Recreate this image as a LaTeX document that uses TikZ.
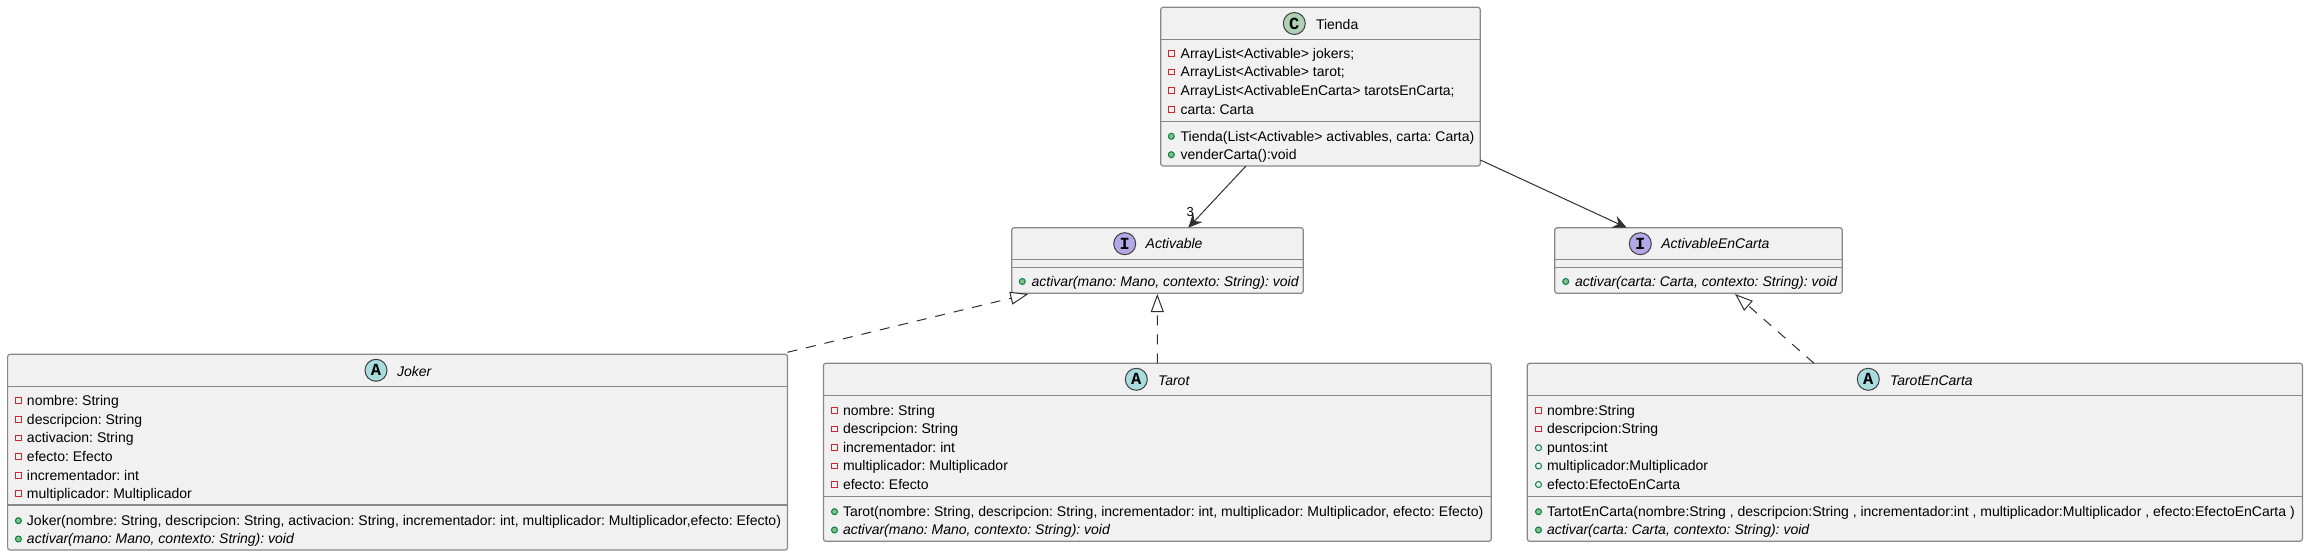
\documentclass[tikz,border=0pt]{standalone}
\usepackage{fontspec}
\setmainfont{Liberation Sans}
\newfontfamily\monofam{Liberation Mono}[BoldFont={Liberation Mono Bold}]
\usetikzlibrary{arrows.meta,calc}
\frenchspacing
\definecolor{boxfill}{HTML}{F1F1F1}
\definecolor{boxline}{HTML}{888888}
\definecolor{linkcol}{HTML}{303030}
\definecolor{privred}{HTML}{C82930}
\definecolor{pubdark}{HTML}{038048}
\definecolor{publight}{HTML}{84BE84}
\definecolor{circC}{HTML}{ADD1B2}
\definecolor{circA}{HTML}{A9DCDF}
\definecolor{circI}{HTML}{B4A7E5}
\tikzset{
  x=1pt,y=-1pt,
  umlbox/.style={draw=boxline,fill=boxfill,line width=1.2pt,rounded corners=2.5pt,inner sep=0,outer sep=0,anchor=north west},
  sepline/.style={draw=boxline,line width=1.2pt},
  membertext/.style={inner sep=0,outer sep=0,anchor=base west,font=\fontsize{14}{17}\selectfont,text=black},
  titletext/.style={membertext},
  circ/.style={circle,draw=black!75,line width=1pt,minimum size=22pt,inner sep=0,outer sep=0,font=\monofam\bfseries\fontsize{17}{20}\selectfont},
  privicon/.style={rectangle,draw=privred,line width=1pt,minimum size=5.6pt,inner sep=0,outer sep=0},
  pubicon/.style={circle,draw=pubdark,fill=publight,line width=1pt,minimum size=6pt,inner sep=0,outer sep=0},
  pubhollow/.style={circle,draw=pubdark,line width=1pt,minimum size=6pt,inner sep=0,outer sep=0},
  assoc/.style={draw=linkcol,line width=1pt,-{Stealth[length=14pt,width=13pt,inset=5pt]}},
  realize/.style={draw=linkcol,line width=1pt,dash pattern=on 10pt off 9pt,-{Triangle[open,length=18pt,width=13pt,fill=white,line width=1pt,sep=0pt]}},
}
% name, x1, y1, x2, y2, sep1, sep2
\newcommand{\umlclass}[7]{%
  \pgfmathsetmacro{\bw}{#4-#2}\pgfmathsetmacro{\bh}{#5-#3}%
  \node[umlbox,minimum width=\bw pt,minimum height=\bh pt] (#1) at (#2,#3) {};
  \draw[sepline] (#2,#6) -- (#4,#6);
  \draw[sepline] (#2,#7) -- (#4,#7);
}
% name, style icon, icon x, text x, centre y, text
\newcommand{\memberrow}[6]{%
  \node[#2] (#1i) at (#3,#5) {};
  \node[membertext] (#1) at (#4,#5+4.8) {#6};
}
\newcommand{\titlerow}[7]{% name, colour, letter, circle x, circle y, text x+baseline , text
  \node[circ,fill=#2] (#1c) at (#4,#5) {#3};
  \node[titletext] (#1) at (#6) {#7};
}
\begin{document}
\begin{tikzpicture}
\useasboundingbox (0,0) rectangle (2308,556);
\fill[white] (0,0) rectangle (2308,556);

% Tienda
\umlclass{tienda}{1160.7}{7.3}{1480.3}{166}{39.3}{121.7}
\titlerow{tiendaT}{circC}{C}{1294.3}{23.5}{1316,29.3}{Tienda}
\memberrow{t1}{privicon}{1171.3}{1180.7}{53.3}{ArrayList<Activable> jokers;}
\memberrow{t2}{privicon}{1171.3}{1180.7}{72}{ArrayList<Activable> tarot;}
\memberrow{t3}{privicon}{1171.3}{1180.7}{90.7}{ArrayList<ActivableEnCarta> tarotsEnCarta;}
\memberrow{t4}{privicon}{1171.3}{1180.7}{109.3}{carta: Carta}
\memberrow{t5}{pubicon}{1171.3}{1180.7}{136.3}{Tienda(List<Activable> activables, carta: Carta)}
\memberrow{t6}{pubicon}{1171.3}{1180.7}{154.7}{venderCarta():void}

% Activable
\umlclass{activable}{1011.7}{227.7}{1303.3}{293.3}{259.3}{267.3}
\titlerow{activableT}{circI}{I}{1124.7}{243.7}{1145.7,248.7}{\itshape Activable}
\memberrow{a1}{pubicon}{1022.3}{1031.7}{281.5}{\itshape activar(mano: Mano, contexto: String): void}

% ActivableEnCarta
\umlclass{activableec}{1554.7}{227.7}{1842.3}{293.3}{259.3}{267.3}
\titlerow{activableecT}{circI}{I}{1640.3}{243.7}{1661.3,248.7}{\itshape ActivableEnCarta}
\memberrow{b1}{pubicon}{1565.7}{1575}{281.5}{\itshape activar(carta: Carta, contexto: String): void}

% Joker
\umlclass{joker}{7.6}{354.3}{787.5}{550}{386.3}{505}
\titlerow{jokerT}{circA}{A}{376}{370.3}{397,376}{\itshape Joker}
\memberrow{j1}{privicon}{18.4}{27}{400.7}{nombre: String}
\memberrow{j2}{privicon}{18.4}{27}{419.4}{descripcion: String}
\memberrow{j3}{privicon}{18.4}{27}{438}{activacion: String}
\memberrow{j4}{privicon}{18.4}{27}{456.7}{efecto: Efecto}
\memberrow{j5}{privicon}{18.4}{27}{475.4}{incrementador: int}
\memberrow{j6}{privicon}{18.4}{27}{493.7}{multiplicador: Multiplicador}
\memberrow{j7}{pubicon}{18.4}{27}{520.7}{Joker(nombre: String, descripcion: String, activacion: String, incrementador: int, multiplicador: Multiplicador,efecto: Efecto)}
\memberrow{j8}{pubicon}{18.4}{27}{539}{\itshape activar(mano: Mano, contexto: String): void}

% Tarot
\umlclass{tarot}{823.4}{363.3}{1491.3}{541.3}{395.3}{496.3}
\titlerow{tarotT}{circA}{A}{1136.3}{379.3}{1158,385}{\itshape Tarot}
\memberrow{k1}{privicon}{834.5}{843}{410.7}{nombre: String}
\memberrow{k2}{privicon}{834.5}{843}{429}{descripcion: String}
\memberrow{k3}{privicon}{834.5}{843}{447.7}{incrementador: int}
\memberrow{k4}{privicon}{834.5}{843}{466}{multiplicador: Multiplicador}
\memberrow{k5}{privicon}{834.5}{843}{484.5}{efecto: Efecto}
\memberrow{k6}{pubicon}{834.5}{843}{511.7}{Tarot(nombre: String, descripcion: String, incrementador: int, multiplicador: Multiplicador, efecto: Efecto)}
\memberrow{k7}{pubicon}{834.5}{843}{530}{\itshape activar(mano: Mano, contexto: String): void}

% TarotEnCarta
\umlclass{tarotec}{1527.3}{363.3}{2302.4}{541.3}{395.3}{496.3}
\titlerow{tarotecT}{circA}{A}{1868.3}{379.3}{1890,385}{\itshape TarotEnCarta}
\memberrow{m1}{privicon}{1538.5}{1547}{410.7}{nombre:String}
\memberrow{m2}{privicon}{1538.5}{1547}{429}{descripcion:String}
\memberrow{m3}{pubhollow}{1538.5}{1547}{447.7}{puntos:int}
\memberrow{m4}{pubhollow}{1538.5}{1547}{466}{multiplicador:Multiplicador}
\memberrow{m5}{pubhollow}{1538.5}{1547}{484.5}{efecto:EfectoEnCarta}
\memberrow{m6}{pubicon}{1538.5}{1547}{511.7}{TartotEnCarta(nombre:String , descripcion:String , incrementador:int , multiplicador:Multiplicador , efecto:EfectoEnCarta )}
\memberrow{m7}{pubicon}{1538.5}{1547}{530}{\itshape activar(carta: Carta, contexto: String): void}

% Connectors
\coordinate (c1s) at ($(tienda.south west)+(85.3,0)$);
\coordinate (c1e) at ($(activable.north west)+(176.6,0)$);
\coordinate (c2s) at ($(tienda.south east)+(0,-6)$);
\coordinate (c2e) at ($(activableec.north west)+(72,0)$);
\coordinate (c3s) at ($(joker.north east)+(0,-2)$);
\coordinate (c3e) at ($(activable.south west)+(16.6,0.7)$);
\coordinate (c4s) at ($(tarot.north west)+(333.9,0)$);
\coordinate (c4e) at ($(activable.south west)+(145.6,0.7)$);
\coordinate (c5s) at ($(tarotec.north west)+(286.7,0)$);
\coordinate (c5e) at ($(activableec.south west)+(180.3,0.7)$);

\draw[assoc] (c1s) -- (c1e);
\draw[assoc] (c2s) -- (c2e);
\draw[realize] (c3s) -- (c3e);
\draw[realize] (c4s) -- (c4e);
\draw[realize] (c5s) -- (c5e);
\node[membertext,font=\fontsize{13}{15}\selectfont] (mult) at (1186.5,217) {3};
\end{tikzpicture}
\end{document}
